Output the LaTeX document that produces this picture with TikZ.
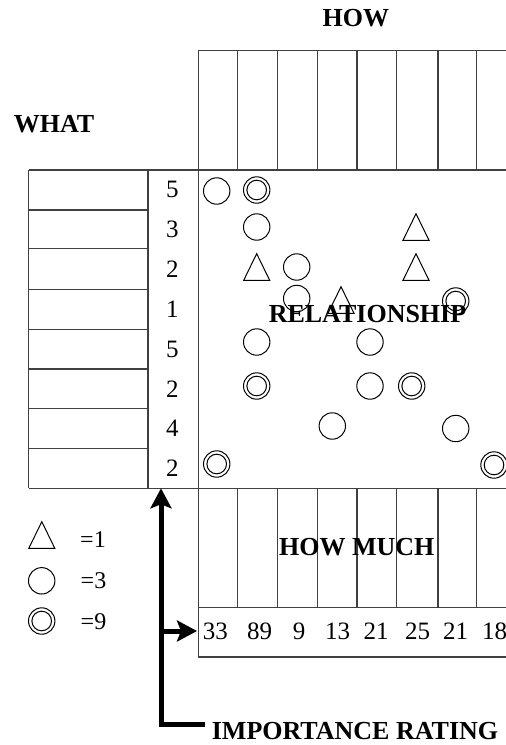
\documentclass[tikz,border=0pt]{standalone}
\usepackage{fontspec}
\setmainfont{Liberation Serif}
\usetikzlibrary{arrows.meta}
\begin{document}
\begin{tikzpicture}[x=1pt,y=-1pt,
  grid/.style={line width=1.1pt, draw=black!75},
  num/.style={font=\fontsize{25}{30}\selectfont, inner sep=0pt},
  leg/.style={font=\fontsize{24}{28}\selectfont, inner sep=0pt},
  lab/.style={font=\fontsize{26}{31}\selectfont\bfseries, inner sep=0pt},
  thickarrow/.style={line width=5pt, -{Stealth[length=20pt,width=21pt,inset=4pt]}},
  sym/.style={line width=1pt, draw=black},
  tri/.pic={\draw[sym] (-13,13.3)--(0,-13.3)--(13,13.3)--cycle;},
  circ/.pic={\draw[sym] (0,0) circle[radius=13.2];},
  dcirc/.pic={\draw[sym] (0,0) circle[radius=13.2] (0,0) circle[radius=9.8];}
]
\useasboundingbox (0,0) rectangle (506,745);
\begin{scope}
\clip (0,0) rectangle (506,745);
% ---- grid: top HOW box ----
\draw[grid] (198.3,50.7) -- (506,50.7);
\foreach \x in {237.7,277.3,317.3,357,396.7,438,476.7}
  \draw[grid] (\x,50.7) -- (\x,170);
% main left border of the matrix
\draw[grid] (198.3,50.7) -- (198.3,657);
% horizontal borders
\draw[grid] (28.7,170) -- (506,170);
\draw[grid] (28.7,488.3) -- (506,488.3);
% left WHAT table
\draw[grid] (28.7,170) -- (28.7,488.3);
\draw[grid] (148,170) -- (148,488.3);
\foreach \y in {210,248.3,289.3,329.3,369,408.3,448.3}
  \draw[grid] (28.7,\y) -- (148,\y);
% HOW MUCH box
\foreach \x in {237.7,277.3,317.3,357,396.7,438,476.7}
  \draw[grid] (\x,488.3) -- (\x,607.3);
\draw[grid] (198.3,607.3) -- (506,607.3);
\draw[grid] (198.3,657) -- (506,657);
\node[num] (v8) at (494.7,631.5) {18};
\pic at (494,465) {dcirc};
\end{scope}

% ---- labels ----
\node[lab] (how) at (355.8,18.3) {HOW};
\node[lab] (what) at (54,124) {WHAT};
\node[lab] (howmuch) at (356.7,547) {HOW MUCH};
\node[lab] (imp) at (355,731.5) {IMPORTANCE RATING};

% ---- importance column ----
\node[num] (r1) at (172.3,189.9) {5};
\node[num] (r2) at (172.3,229.7) {3};
\node[num] (r3) at (172.3,269.5) {2};
\node[num] (r4) at (172.3,309.3) {1};
\node[num] (r5) at (172.3,349.1) {5};
\node[num] (r6) at (172.3,388.9) {2};
\node[num] (r7) at (172.3,428.7) {4};
\node[num] (r8) at (172.3,468.4) {2};

% ---- values row ----
\node[num] (v1) at (215.3,631.5) {33};
\node[num] (v2) at (259.5,631.5) {89};
\node[num] (v3) at (299,631.5) {9};
\node[num] (v4) at (337.5,631.5) {13};
\node[num] (v5) at (376,631.5) {21};
\node[num] (v6) at (417.5,631.5) {25};
\node[num] (v7) at (455.5,631.5) {21};

% ---- relationship symbols ----
\pic at (216.7,191) {circ};
\pic at (256.7,190) {dcirc};
\pic at (256.7,227) {circ};
\pic at (416,227) {tri};
\pic at (256.7,267) {tri};
\pic at (296.7,267) {circ};
\pic at (416,267) {tri};
\pic at (296.7,298.5) {circ};
\pic at (341,300) {tri};
\pic at (455.7,301) {dcirc};
\pic at (256.7,342) {circ};
\pic at (370,342) {circ};
\pic at (256.7,386) {dcirc};
\pic at (370,386) {circ};
\pic at (411.7,386) {dcirc};
\pic at (332.3,426) {circ};
\pic at (455.7,428.5) {circ};
\pic at (216.7,464) {dcirc};

\node[lab] (rel) at (367.5,313.7) {RELATIONSHIP};

% ---- legend ----
\pic at (41.8,535) {tri};
\pic at (41.7,580.8) {circ};
\pic at (41.7,621) {dcirc};
\node[leg] (l1) at (93,540) {=1};
\node[leg] (l3) at (93.5,581) {=3};
\node[leg] (l9) at (93.5,621.5) {=9};

% ---- arrows ----
\coordinate (impin) at (205,724);
\coordinate (ratebot) at (161,488.3);
\coordinate (branch) at (161,631);
\coordinate (valin) at (197,631);
\draw[thickarrow] (impin) -| (ratebot);
\draw[thickarrow] (branch) -- (valin);
\end{tikzpicture}
\end{document}
